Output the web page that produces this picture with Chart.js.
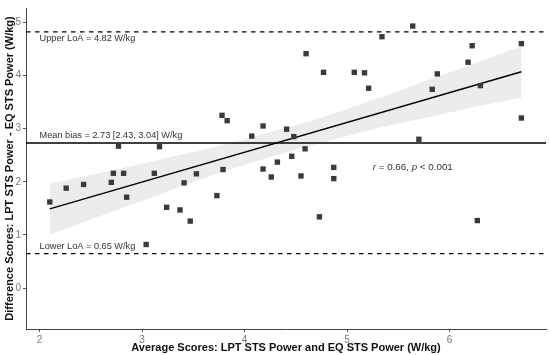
<!DOCTYPE html>
<html>
<head>
<meta charset="utf-8">
<script src="https://cdn.jsdelivr.net/npm/chart.js@4.4.1/dist/chart.umd.min.js"></script>
<style>
  html, body { margin: 0; padding: 0; background: #fff; }
  #wrap { width: 550px; height: 355px; }
</style>
</head>
<body>
<div id="wrap"><canvas id="ba"></canvas></div>
<script>
// Bland-Altman points (average vs difference, W/kg)
const avgScores = [2.10, 2.26, 2.43, 2.70, 2.72, 2.77, 2.82, 2.85, 3.04, 3.12, 3.17, 3.24, 3.37, 3.41, 3.47, 3.53,
    3.73, 3.78, 3.79, 3.83, 4.07, 4.18, 4.18, 4.26, 4.32, 4.41, 4.46, 4.48, 4.55, 4.59, 4.60, 4.73, 4.77, 4.87, 4.87,
    5.07, 5.17, 5.21, 5.34, 5.64, 5.70, 5.83, 5.88, 6.18, 6.22, 6.27, 6.30, 6.70, 6.70];
const diffScores = [1.62, 1.88, 1.95, 1.99, 2.16, 2.67, 2.16, 1.71, 0.82, 2.16, 2.66, 1.52, 1.47, 1.98, 1.26, 2.15,
    1.74, 3.25, 2.23, 3.15, 2.86, 3.05, 2.24, 2.09, 2.37, 2.99, 2.48, 2.85, 2.11, 2.62, 4.41, 1.34, 4.06, 2.27, 2.06,
    4.06, 4.05, 3.76, 4.73, 4.93, 2.80, 3.74, 4.03, 4.25, 4.56, 1.27, 3.81, 4.60, 3.20];

// regression line and its confidence band
const fitX = [2.10, 6.70];
const fitY = [1.49, 4.07];
const bandX = [2.1, 2.5, 3.0, 3.5, 4.0, 4.4, 4.8, 5.3, 5.8, 6.3, 6.7];
const bandLow = [1.00, 1.29, 1.64, 2.00, 2.32, 2.55, 2.76, 3.01, 3.22, 3.43, 3.58];
const bandHigh = [1.97, 2.13, 2.34, 2.56, 2.80, 3.01, 3.24, 3.57, 3.92, 4.27, 4.55];

const meanBias = 2.73;
const upperLoA = 4.82;
const lowerLoA = 0.65;

const xMin = 1.868, xMax = 6.94;
const yMin = -0.77, yMax = 5.27;
const xTicks = [2, 3, 4, 5, 6];
const yTicks = [0, 1, 2, 3, 4, 5];

// annotation text with anchor in data units
const notes = [
    { text: "Upper LoA = 4.82 W/kg", x: 2.0, y: 4.69 },
    { text: "Mean bias = 2.73 [2.43, 3.04] W/kg", x: 2.0, y: 2.88 },
    { text: "Lower LoA = 0.65 W/kg", x: 2.0, y: 0.79 }
];
const corrNote = { x: 5.25, y: 2.27 };

const FONT = "'Liberation Sans', Arial, sans-serif";

function zip(xs, ys) {
    return xs.map((x, i) => ({ x: x, y: ys[i] }));
}

function hline(v) {
    return [{ x: xMin, y: v }, { x: xMax, y: v }];
}

const notePlugin = {
    id: 'notes',
    afterDatasetsDraw(chart) {
        const ctx = chart.ctx;
        const xs = chart.scales.x, ys = chart.scales.y;
        ctx.save();
        ctx.fillStyle = '#333';
        ctx.textBaseline = 'middle';
        ctx.textAlign = 'left';
        ctx.font = "9.2px " + FONT;
        notes.forEach(n => {
            ctx.fillText(n.text, xs.getPixelForValue(n.x), ys.getPixelForValue(n.y));
        });
        // r = 0.66, p < 0.001 with italic r and p
        let px = xs.getPixelForValue(corrNote.x);
        const py = ys.getPixelForValue(corrNote.y);
        const parts = [["r", true], [" = 0.66, ", false], ["p", true], [" < 0.001", false]];
        parts.forEach(p => {
            ctx.font = (p[1] ? "italic " : "") + "9.8px " + FONT;
            ctx.fillText(p[0], px, py);
            px += ctx.measureText(p[0]).width;
        });
        ctx.restore();
    }
};

new Chart(document.getElementById('ba'), {
    type: 'line',
    data: {
        datasets: [
            {
                data: zip(bandX, bandLow),
                borderWidth: 0,
                pointRadius: 0,
                fill: false,
                order: 5
            },
            {
                data: zip(bandX, bandHigh),
                borderWidth: 0,
                pointRadius: 0,
                backgroundColor: '#ececec',
                fill: '-1',
                order: 4
            },
            {
                data: hline(upperLoA),
                borderColor: '#000',
                borderWidth: 1.3,
                borderDash: [4.5, 4.5],
                pointRadius: 0,
                order: 3
            },
            {
                data: hline(lowerLoA),
                borderColor: '#000',
                borderWidth: 1.3,
                borderDash: [4.5, 4.5],
                pointRadius: 0,
                order: 3
            },
            {
                data: hline(meanBias),
                borderColor: '#000',
                borderWidth: 1.3,
                pointRadius: 0,
                order: 3
            },
            {
                data: zip(fitX, fitY),
                borderColor: '#000',
                borderWidth: 1.5,
                pointRadius: 0,
                order: 2
            },
            {
                data: zip(avgScores, diffScores),
                showLine: false,
                pointStyle: 'rect',
                pointRadius: 3.8,
                pointBackgroundColor: '#3a3a3a',
                pointBorderWidth: 0,
                order: 1
            }
        ]
    },
    options: {
        responsive: true,
        maintainAspectRatio: false,
        animation: false,
        events: [],
        layout: { padding: { left: 0, right: 3, top: 5, bottom: 0 } },
        plugins: {
            legend: { display: false },
            tooltip: { enabled: false }
        },
        scales: {
            x: {
                type: 'linear',
                min: xMin,
                max: xMax,
                afterFit(scale) { scale.height = 26; },
                afterBuildTicks(scale) { scale.ticks = xTicks.map(v => ({ value: v })); },
                grid: { drawOnChartArea: false, drawTicks: true, tickLength: 3, color: '#555' },
                border: { display: true, color: '#444', width: 1 },
                ticks: {
                    color: '#7a7a7a',
                    padding: 2,
                    maxRotation: 0,
                    font: { family: FONT, size: 10 }
                },
                title: {
                    display: true,
                    text: 'Average Scores: LPT STS Power and EQ STS Power (W/kg)',
                    color: '#111',
                    padding: { top: 0, bottom: 0 },
                    font: { family: FONT, size: 11, weight: 'bold' }
                }
            },
            y: {
                min: yMin,
                max: yMax,
                afterFit(scale) { scale.width = 26; },
                afterBuildTicks(scale) { scale.ticks = yTicks.map(v => ({ value: v })); },
                grid: { drawOnChartArea: false, drawTicks: true, tickLength: 3, color: '#555' },
                border: { display: true, color: '#444', width: 1 },
                ticks: {
                    color: '#7a7a7a',
                    padding: 2,
                    font: { family: FONT, size: 10 }
                },
                title: {
                    display: true,
                    text: 'Difference Scores: LPT STS Power - EQ STS Power (W/kg)',
                    color: '#111',
                    padding: { top: 3, bottom: 0 },
                    font: { family: FONT, size: 11, weight: 'bold' }
                }
            }
        }
    },
    plugins: [notePlugin]
});
</script>
</body>
</html>
